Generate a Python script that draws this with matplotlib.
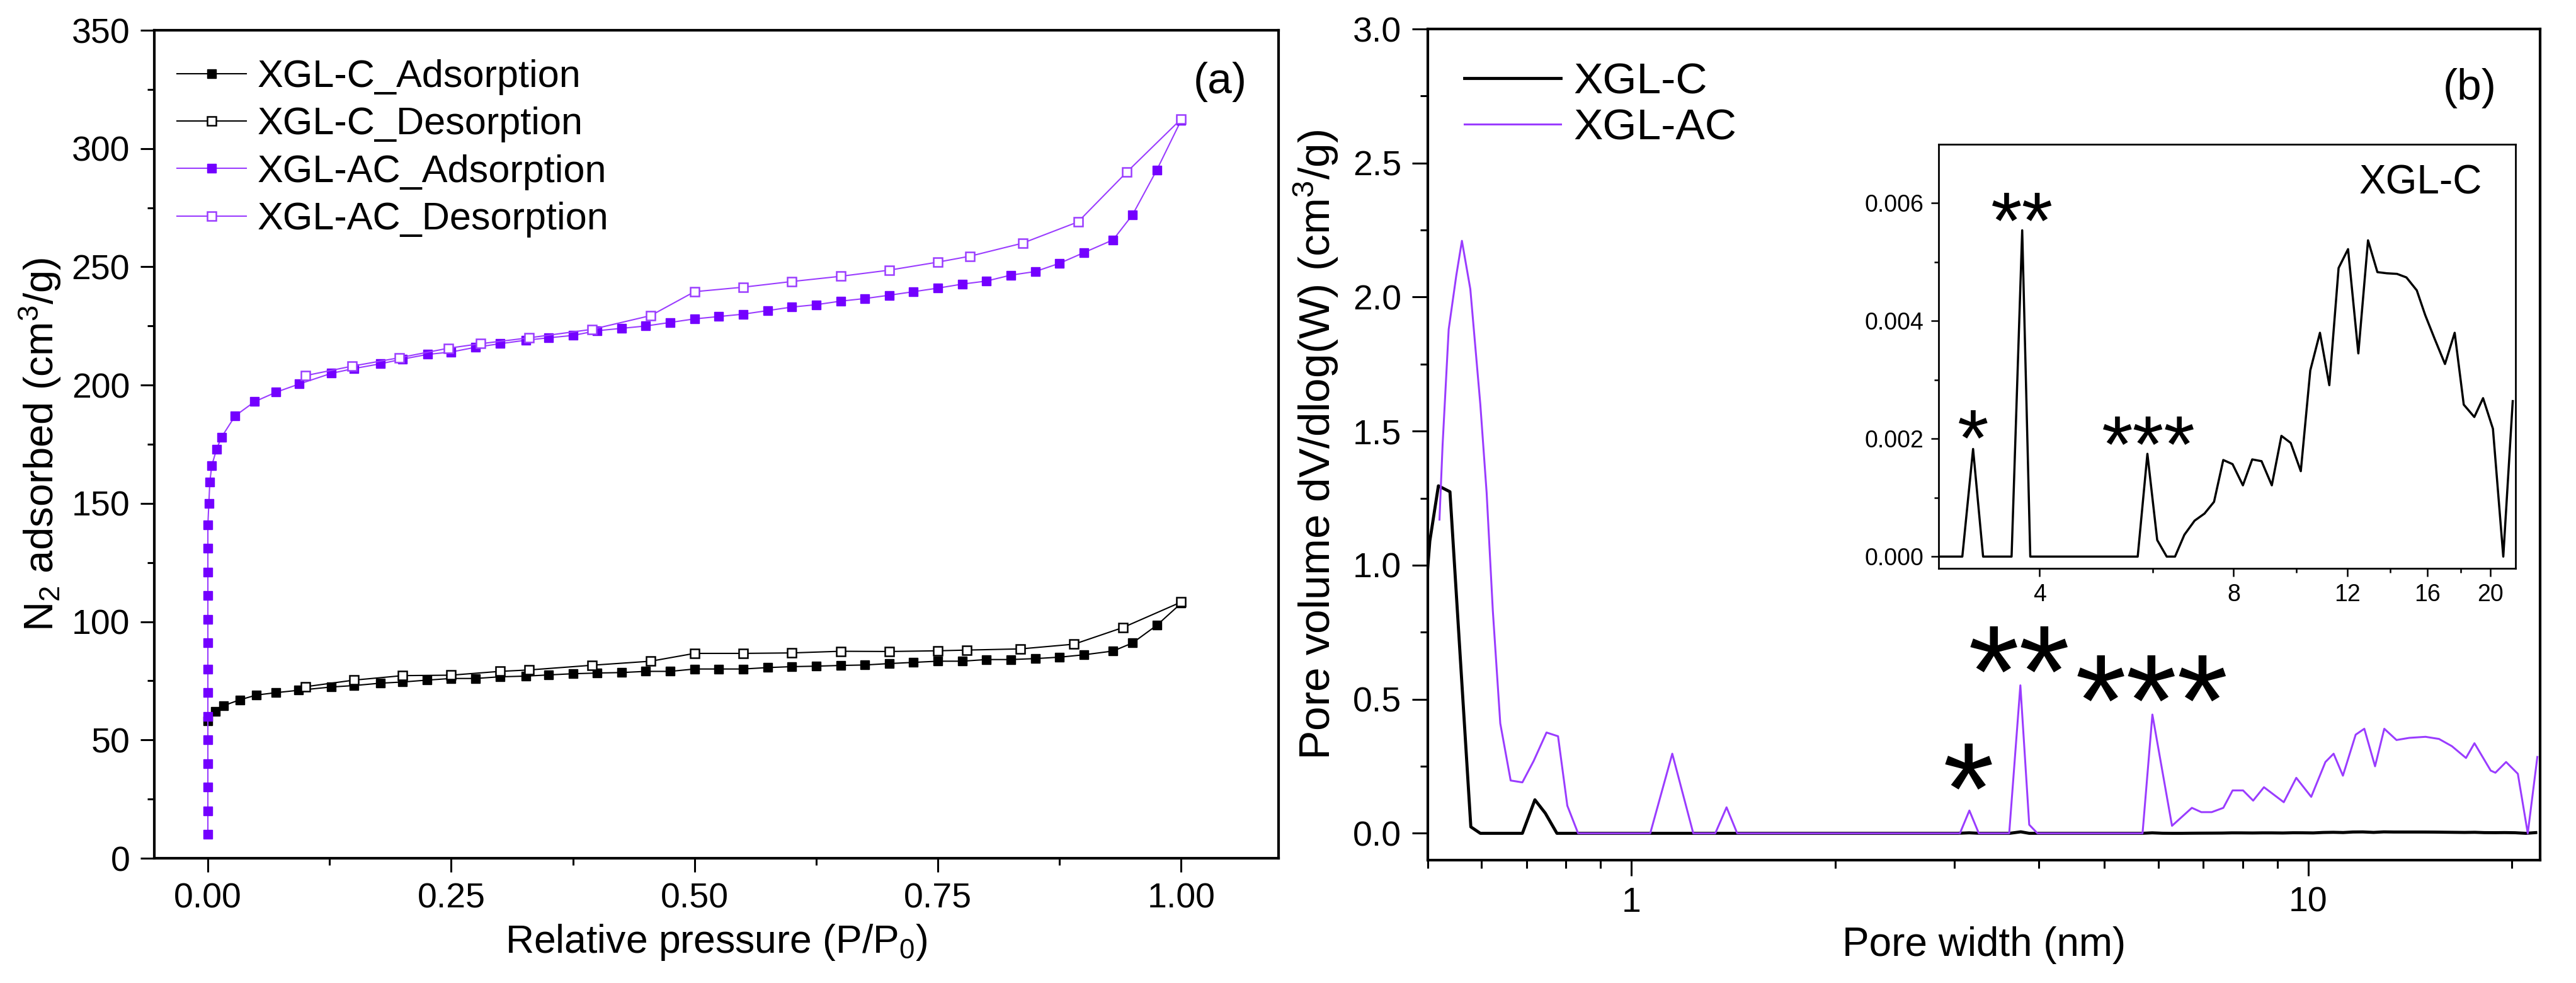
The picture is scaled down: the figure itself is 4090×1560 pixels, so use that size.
import numpy as np
import matplotlib.pyplot as plt
from matplotlib.ticker import MultipleLocator, FixedLocator, FixedFormatter, NullFormatter, FormatStrFormatter, LogLocator

plt.rcParams['font.family'] = ['Liberation Sans', 'DejaVu Sans']
plt.rcParams['mathtext.default'] = 'regular'

PURPLE_LINE = '#9a3cff'
PURPLE_MK = '#7300ff'

# ---- (a) N2 isotherms ----
c_ads_x = [0.0, 0.008, 0.016, 0.033, 0.05, 0.07, 0.093, 0.127, 0.15, 0.177, 0.2, 0.225, 0.25, 0.275,
           0.3, 0.327, 0.35, 0.375, 0.4, 0.425, 0.45, 0.475, 0.5, 0.525, 0.55, 0.575, 0.6, 0.625,
           0.65, 0.675, 0.7, 0.725, 0.75, 0.775, 0.8, 0.825, 0.85, 0.875, 0.9, 0.93, 0.95, 0.975, 1.0]
c_ads_y = [58, 62, 64.5, 67, 69, 70, 71, 72.4, 73, 74, 74.5, 75.3, 76, 76,
           76.7, 77, 77.5, 78, 78.3, 78.5, 79, 79, 80, 80, 80, 80.6, 81, 81.2,
           81.5, 81.7, 82.3, 82.8, 83.3, 83.3, 84, 84, 84.4, 85, 86, 87.6, 91, 98.5, 107.8]

c_des_x = [1.0, 0.94, 0.89, 0.835, 0.78, 0.75, 0.70, 0.65, 0.6, 0.55, 0.5, 0.455, 0.395,
           0.33, 0.3, 0.25, 0.2, 0.15, 0.1]
c_des_y = [108.3, 97.5, 90.5, 88.5, 88.0, 87.7, 87.4, 87.5, 86.8, 86.6, 86.6, 83.3, 81.6,
           79.6, 79.0, 77.4, 77.2, 75.3, 72.5]

ac_ads_x = [0.0, 0.0, 0.0, 0.0, 0.0, 0.0, 0.0, 0.0, 0.0, 0.0, 0.0, 0.0, 0.0, 0.0,
            0.001, 0.002, 0.004, 0.009, 0.014, 0.028, 0.048, 0.07, 0.094, 0.127, 0.15, 0.177,
            0.2, 0.226, 0.25, 0.275, 0.3, 0.327, 0.35, 0.375, 0.4, 0.425, 0.45, 0.475, 0.5,
            0.525, 0.55, 0.575, 0.6, 0.625, 0.65, 0.675, 0.7, 0.725, 0.75, 0.775, 0.8, 0.825,
            0.85, 0.875, 0.9, 0.93, 0.95, 0.975, 1.0]
ac_ads_y = [10, 20, 30, 40, 50, 60, 70, 80, 91, 101, 111, 121, 131, 141,
            150, 159, 166, 173, 178, 187, 193, 197, 200.5, 205, 207, 209,
            211, 213, 214, 216, 217.5, 219, 220, 221, 223, 224, 225, 226.5, 228,
            229, 230, 231.5, 233, 234, 235.5, 236.6, 238, 239.5, 241, 242.7, 244, 246.5,
            248, 251.5, 256, 261.4, 272, 291, 312]

ac_des_x = [1.0, 0.944, 0.894, 0.837, 0.783, 0.75, 0.7, 0.65, 0.6, 0.55, 0.5, 0.455, 0.395,
            0.33, 0.28, 0.247, 0.197, 0.148, 0.1]
ac_des_y = [312.5, 290, 269, 260, 254.5, 252, 248.6, 246, 243.8, 241.4, 239.5, 229.4, 223.6,
            220, 217.5, 215.6, 211.6, 208, 204]

# ---- (b) pore size distribution ----
inset_x = [2.79, 3.036, 3.155, 3.27, 3.62, 3.76, 3.87, 5.68, 5.88, 6.09, 6.30, 6.49, 6.71, 6.96,
           7.21, 7.46, 7.71, 7.97, 8.27, 8.55, 8.84, 9.17, 9.49, 9.81, 10.17, 10.52, 10.89,
           11.26, 11.64, 12.04, 12.49, 12.93, 13.37, 13.83, 14.34, 14.83, 15.39, 15.86, 16.4,
           17.02, 17.62, 18.2, 18.9, 19.5, 20.2, 20.96, 21.68]
inset_y = [0.0, 0.0, 1.827e-3, 0.0, 0.0, 5.54e-3, 0.0, 0.0, 1.745e-3, 0.28e-3, 0.0, 0.0, 0.37e-3,
           0.61e-3, 0.73e-3, 0.93e-3, 1.64e-3, 1.57e-3, 1.21e-3, 1.65e-3, 1.62e-3, 1.21e-3,
           2.05e-3, 1.93e-3, 1.45e-3, 3.16e-3, 3.8e-3, 2.91e-3, 4.9e-3, 5.22e-3, 3.45e-3,
           5.37e-3, 4.83e-3, 4.81e-3, 4.8e-3, 4.74e-3, 4.52e-3, 4.1e-3, 3.7e-3, 3.27e-3,
           3.8e-3, 2.58e-3, 2.37e-3, 2.69e-3, 2.17e-3, 0.0, 2.64e-3]

c_psd_x = [0.5, 0.5036, 0.5185, 0.5393, 0.579, 0.598, 0.690, 0.720, 0.746, 0.776] + inset_x
c_psd_y = [0.99, 1.09, 1.296, 1.274, 0.024, 0.0, 0.0, 0.125, 0.075, 0.0] + inset_y

ac_psd_x = [0.5204, 0.526, 0.537, 0.551, 0.5617, 0.578, 0.598, 0.611, 0.624, 0.640, 0.663,
            0.690, 0.717, 0.749, 0.779, 0.804, 0.834, 1.066, 1.149, 1.234, 1.33, 1.382, 1.433,
            3.057, 3.157, 3.26, 3.615, 3.755, 3.87, 3.98, 5.69, 5.884, 6.29, 6.73, 6.95, 7.2,
            7.49, 7.73, 8.01, 8.29, 8.6, 9.2, 9.6, 10.1, 10.6, 10.9, 11.25, 11.75, 12.1, 12.55,
            12.95, 13.5, 14.1, 14.9, 15.6, 16.3, 17.1, 17.6, 18.6, 18.9, 19.6, 20.4, 21.1, 21.8]
ac_psd_y = [1.17, 1.45, 1.88, 2.08, 2.21, 2.03, 1.6, 1.27, 0.83, 0.41, 0.197,
            0.19, 0.27, 0.376, 0.362, 0.103, 0.0, 0.0, 0.297, 0.0, 0.0, 0.097, 0.0,
            0.0, 0.085, 0.0, 0.0, 0.552, 0.032, 0.0, 0.0, 0.443, 0.028, 0.095, 0.079, 0.079,
            0.095, 0.16, 0.16, 0.122, 0.172, 0.116, 0.207, 0.136, 0.266, 0.297, 0.215, 0.368, 0.39, 0.25,
            0.39, 0.348, 0.356, 0.36, 0.352, 0.325, 0.281, 0.336, 0.234, 0.226, 0.266, 0.222, 0.0, 0.285]

# asterisk labels: (text, x, y)
main_marks = [('*', 3.146, 0.235), ('**', 3.741, 0.67), ('***', 5.867, 0.564)]
inset_marks = [('*', 3.156, 0.00223), ('**', 3.76, 0.00592), ('***', 5.9, 0.00212)]

fig = plt.figure(figsize=(40.91, 15.6), dpi=100)
ax1 = fig.add_axes([0.0599, 0.1269, 0.4363, 0.8423])
ax2 = fig.add_axes([0.5541, 0.125, 0.4317, 0.8455])
axin = fig.add_axes([0.7524, 0.4218, 0.2239, 0.4314])

# panel (a)
ax1.plot(c_ads_x, c_ads_y, '-s', color='black', lw=1.5, ms=10, mfc='black', mec='black',
         label='XGL-C_Adsorption')
ax1.plot(c_des_x, c_des_y, '-s', color='black', lw=1.5, ms=10, mfc='white', mec='black', mew=1.8,
         label='XGL-C_Desorption')
ax1.plot(ac_ads_x, ac_ads_y, '-s', color=PURPLE_LINE, lw=1.5, ms=10, mfc=PURPLE_MK, mec=PURPLE_MK,
         label='XGL-AC_Adsorption')
ax1.plot(ac_des_x, ac_des_y, '-s', color=PURPLE_LINE, lw=1.5, ms=10, mfc='white', mec=PURPLE_LINE,
         mew=1.8, label='XGL-AC_Desorption')

ax1.set_xlim(-0.055, 1.10)
ax1.set_ylim(0, 350)
ax1.xaxis.set_major_locator(FixedLocator([0, 0.25, 0.5, 0.75, 1.0]))
ax1.xaxis.set_major_formatter(FormatStrFormatter('%.2f'))
ax1.xaxis.set_minor_locator(FixedLocator([0.125, 0.375, 0.625, 0.875]))
ax1.yaxis.set_major_locator(MultipleLocator(50))
ax1.yaxis.set_minor_locator(MultipleLocator(25))
ax1.set_xlabel('Relative pressure (P/P$_0$)', fontsize=45, labelpad=8)
ax1.set_ylabel('N$_2$ adsorbed (cm$^3$/g)', fontsize=47, labelpad=10)
ax1.legend(loc='upper left', bbox_to_anchor=(0.02, 0.965), frameon=False, fontsize=44,
           handlelength=1.8, handletextpad=0.3, labelspacing=0.3, borderpad=0, borderaxespad=0)
ax1.text(0.948, 0.9376, '(a)', transform=ax1.transAxes, fontsize=50, ha='center', va='center')

# panel (b)
ax2.plot(c_psd_x, c_psd_y, color='black', lw=3.5, label='XGL-C')
ax2.plot(ac_psd_x, ac_psd_y, color=PURPLE_LINE, lw=2.2, label='XGL-AC')
ax2.set_xscale('log')
ax2.set_xlim(0.5, 22)
ax2.set_ylim(-0.1, 3.0)
ax2.xaxis.set_major_locator(FixedLocator([1, 10]))
ax2.xaxis.set_major_formatter(FixedFormatter(['1', '10']))
ax2.xaxis.set_minor_locator(LogLocator(base=10, subs=np.arange(2, 10)))
ax2.xaxis.set_minor_formatter(NullFormatter())
ax2.yaxis.set_major_locator(MultipleLocator(0.5))
ax2.yaxis.set_major_formatter(FormatStrFormatter('%.1f'))
ax2.yaxis.set_minor_locator(MultipleLocator(0.25))
ax2.set_xlabel('Pore width (nm)', fontsize=46, labelpad=8)
ax2.set_ylabel('Pore volume dV/dlog(W) (cm$^3$/g)', fontsize=50, labelpad=14)
ax2.legend(loc='upper left', bbox_to_anchor=(0.033, 0.960), frameon=False, fontsize=50,
           handlelength=2.2, handletextpad=0.3, labelspacing=0.12, borderpad=0, borderaxespad=0)
ax2.text(0.937, 0.929, '(b)', transform=ax2.transAxes, fontsize=50, ha='center', va='center')
for s, x, y in main_marks:
    ax2.annotate(s, xy=(x, y), xytext=(0, -72), textcoords='offset points',
                 ha='center', va='baseline', fontsize=150)

# inset
axin.plot(inset_x, inset_y, color='black', lw=2.5)
axin.set_xscale('log')
axin.set_xlim(2.79, 21.9)
axin.set_ylim(-0.0002, 0.007)
axin.xaxis.set_major_locator(FixedLocator([4, 8, 12, 16, 20]))
axin.xaxis.set_major_formatter(FixedFormatter(['4', '8', '12', '16', '20']))
axin.xaxis.set_minor_locator(FixedLocator([6, 10, 14, 18]))
axin.xaxis.set_minor_formatter(NullFormatter())
axin.yaxis.set_major_locator(FixedLocator([0, 0.002, 0.004, 0.006]))
axin.yaxis.set_major_formatter(FormatStrFormatter('%.3f'))
axin.yaxis.set_minor_locator(FixedLocator([0.001, 0.003, 0.005]))
axin.text(0.835, 0.909, 'XGL-C', transform=axin.transAxes, fontsize=46, ha='center', va='center')
for s, x, y in inset_marks:
    axin.annotate(s, xy=(x, y), xytext=(0, -46), textcoords='offset points',
                  ha='center', va='baseline', fontsize=92)

for ax in (ax1, ax2):
    for sp in ax.spines.values():
        sp.set_linewidth(3)
    ax.tick_params(which='both', direction='out', top=False, right=False, width=2.2,
                   labelsize=40, pad=12)
    ax.tick_params(which='major', length=16)
    ax.tick_params(which='minor', length=8)
ax2.tick_params(which='major', length=18)
ax2.tick_params(which='minor', length=9)

for sp in axin.spines.values():
    sp.set_linewidth(2)
axin.tick_params(which='both', direction='out', top=False, right=False, width=1.8,
                 labelsize=27, pad=8)
axin.tick_params(which='major', length=9)
axin.tick_params(which='minor', length=5)

fig.savefig('out.png', dpi=100, facecolor='white')
